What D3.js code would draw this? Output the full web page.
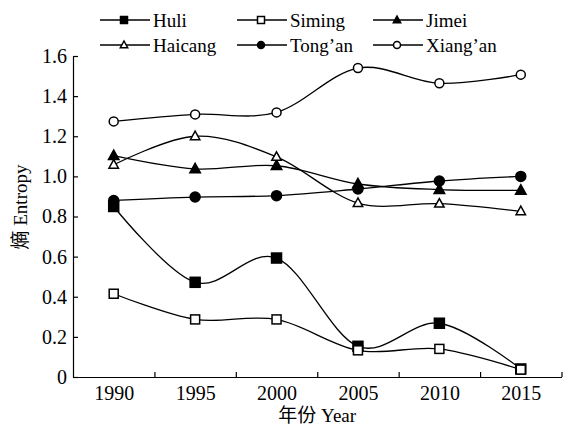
<!DOCTYPE html>
<html>
<head>
<meta charset="utf-8">
<script src="https://cdn.jsdelivr.net/npm/d3@7"></script>
<style>
  html, body { margin: 0; padding: 0; background: #fff; }
  svg { display: block; }
</style>
</head>
<body>
<svg id="chart" width="565" height="427"></svg>
<script>
// Entropy of land-use by district, 1990–2015
const years = [1990, 1995, 2000, 2005, 2010, 2015];
const huli     = [0.850, 0.472, 0.593, 0.153, 0.268, 0.040];
const siming   = [0.415, 0.287, 0.287, 0.133, 0.140, 0.037];
const jimei    = [1.103, 1.037, 1.053, 0.962, 0.934, 0.930];
const haicang  = [1.058, 1.200, 1.097, 0.867, 0.864, 0.826];
const tongan   = [0.880, 0.897, 0.904, 0.937, 0.977, 1.000];
const xiangan  = [1.274, 1.309, 1.319, 1.540, 1.464, 1.507];
const yTicks = [0, 0.2, 0.4, 0.6, 0.8, 1.0, 1.2, 1.4, 1.6];

const series = [
  { name: "Huli",     values: huli,    shape: "square",   fill: true  },
  { name: "Siming",   values: siming,  shape: "square",   fill: false },
  { name: "Jimei",    values: jimei,   shape: "triangle", fill: true  },
  { name: "Haicang",  values: haicang, shape: "triangle", fill: false },
  { name: "Tong\u2019an",  values: tongan,  shape: "circle",   fill: true  },
  { name: "Xiang\u2019an", values: xiangan, shape: "circle",   fill: false }
];

const FONT = '"Liberation Serif", "Times New Roman", "Noto Sans CJK SC", serif';
const svg = d3.select("#chart").attr("font-family", FONT);
const plotLeft = 73, plotRight = 561.5, plotTop = 56, plotBottom = 377;

// Each year occupies one 5-year slot; ticks sit on slot boundaries
const x = d3.scaleLinear().domain([1987.5, 2017.5]).range([plotLeft, plotRight]);
const y = d3.scaleLinear().domain([0, 1.6]).range([plotBottom, plotTop]);

// X axis: labels at the years, tick marks between them
const xLab = svg.append("g").attr("transform", `translate(0,${plotBottom})`)
  .call(d3.axisBottom(x).tickValues(years).tickSize(0).tickPadding(9).tickFormat(d3.format("d")))
  .attr("font-family", FONT).attr("font-size", 20);
xLab.select(".domain").remove();
xLab.selectAll("text").attr("fill", "#000");

const xAx = svg.append("g").attr("transform", `translate(0,${plotBottom})`)
  .call(d3.axisBottom(x).tickValues(years.map(v => v + 2.5)).tickSize(-5).tickSizeOuter(0).tickFormat(""));
xAx.select(".domain").attr("stroke", "#000").attr("stroke-width", 1.2);
xAx.selectAll(".tick line").attr("stroke", "#000").attr("stroke-width", 1.2);

// Y axis with inward ticks
const yAx = svg.append("g").attr("transform", `translate(${plotLeft},0)`)
  .call(d3.axisLeft(y).tickValues(yTicks).tickSize(-5).tickSizeOuter(0).tickPadding(6)
    .tickFormat(d => d === 0 ? "0" : d.toFixed(1)))
  .attr("font-family", FONT).attr("font-size", 20);
yAx.select(".domain").attr("stroke", "#000").attr("stroke-width", 1.2);
yAx.selectAll(".tick line").attr("stroke", "#000").attr("stroke-width", 1.2);
yAx.selectAll("text").attr("fill", "#000");

// Axis titles
svg.append("text").attr("x", (plotLeft + plotRight) / 2).attr("y", 422)
  .attr("text-anchor", "middle").attr("font-size", 19).text("年份 Year");
svg.append("text").attr("transform", `translate(27,207) rotate(-90)`)
  .attr("text-anchor", "middle").attr("font-size", 19).text("熵 Entropy");

// Marker drawing
function marker(g, shape, fill, size) {
  const sw = 1.5;
  const f = fill ? "#000" : "#fff";
  if (shape === "square") {
    g.append("rect").attr("x", -size / 2).attr("y", -size / 2).attr("width", size).attr("height", size)
      .attr("fill", f).attr("stroke", "#000").attr("stroke-width", sw);
  } else if (shape === "circle") {
    g.append("circle").attr("r", size / 2).attr("fill", f).attr("stroke", "#000").attr("stroke-width", sw);
  } else {
    const h = size * 0.95, w = size * 1.05;
    g.append("path").attr("d", `M0,${-h * 0.6}L${w / 2},${h * 0.4}L${-w / 2},${h * 0.4}Z`)
      .attr("fill", f).attr("stroke", "#000").attr("stroke-width", sw).attr("stroke-linejoin", "miter");
  }
}

// Smoothed lines
const line = d3.line().x((d, i) => x(years[i])).y(d => y(d)).curve(d3.curveCardinal.tension(0));
const plot = svg.append("g");
series.forEach(s => {
  plot.append("path").attr("d", line(s.values)).attr("fill", "none")
    .attr("stroke", "#000").attr("stroke-width", 1.3);
});
series.forEach(s => {
  s.values.forEach((v, i) => {
    const g = plot.append("g").attr("transform", `translate(${x(years[i])},${y(v)})`);
    marker(g, s.shape, s.fill, s.fill ? 10 : 9);
  });
});

// Legend: 3 columns x 2 rows
const legCols = [100, 237, 373];
const legRows = [20, 45];
series.forEach((s, i) => {
  const cx = legCols[i % 3], cy = legRows[Math.floor(i / 3)];
  const g = svg.append("g").attr("transform", `translate(${cx},${cy})`);
  g.append("line").attr("x1", 0).attr("x2", 50).attr("y1", 0).attr("y2", 0)
    .attr("stroke", "#000").attr("stroke-width", 1.3);
  const m = g.append("g").attr("transform", "translate(24,0)");
  marker(m, s.shape, s.fill, 7);
  g.append("text").attr("x", 53).attr("y", 6.5).attr("font-size", 19).text(s.name);
});
</script>
</body>
</html>
